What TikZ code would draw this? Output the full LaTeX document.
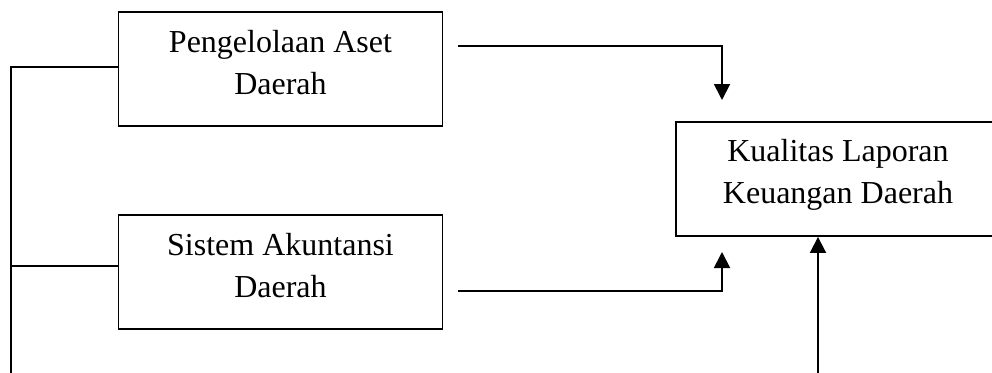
\documentclass[tikz,border=0pt]{standalone}
\usepackage{fontspec}
\setmainfont{Liberation Serif}
\usetikzlibrary{arrows.meta,calc}
\begin{document}
\begin{tikzpicture}[x=0.75pt,y=-0.75pt,
  line width=1.4pt,
  varbox/.style={draw, minimum width=243pt, minimum height=85.5pt, inner sep=0pt},
  boxtext/.style={anchor=base, align=center, inner sep=0pt,
    font=\fontsize{24}{31.5}\selectfont},
  flow/.style={-{Triangle[length=12pt,width=12pt]}}]
\useasboundingbox (0,0) rectangle (992,372);
\clip (0,0) rectangle (992,372);

% boxes
\node[varbox] (b1) at (280.5,69) {};
\node[varbox] (b2) at (280.5,272) {};
\node[varbox] (b3) at (838,179) {};

% labels, last baseline 25px below each box centre
\node[boxtext] (t1) at ([yshift=-18.75pt]b1.center) {Pengelolaan Aset\\Daerah};
\node[boxtext] (t2) at ([yshift=-18.75pt]b2.center) {Sistem Akuntansi\\Daerah};
\node[boxtext] (t3) at ([yshift=-18pt]b3.center) {Kualitas Laporan\\Keuangan Daerah};

% left trunk joining both independent variables
\coordinate (trunktop) at (11,67);
\coordinate (trunkbot) at (11,380);
\coordinate (j1) at ($(b1.west)+(0,-2)$);
\coordinate (j2) at ($(b2.west)+(0,-6)$);
\draw (j1) -- (trunktop) -- (trunkbot);
\draw (j2) -- (j2 -| trunktop);

% arrows into the dependent variable
\coordinate (a1s) at (458,46);
\coordinate (a1e) at (722,100);
\draw[flow] (a1s) -| (a1e);
\coordinate (a2s) at (458,291);
\coordinate (a2e) at (722,252);
\draw[flow] (a2s) -| (a2e);
\coordinate (a3s) at (818,380);
\draw[flow] (a3s) -- (a3s |- b3.south);
\end{tikzpicture}
\end{document}
